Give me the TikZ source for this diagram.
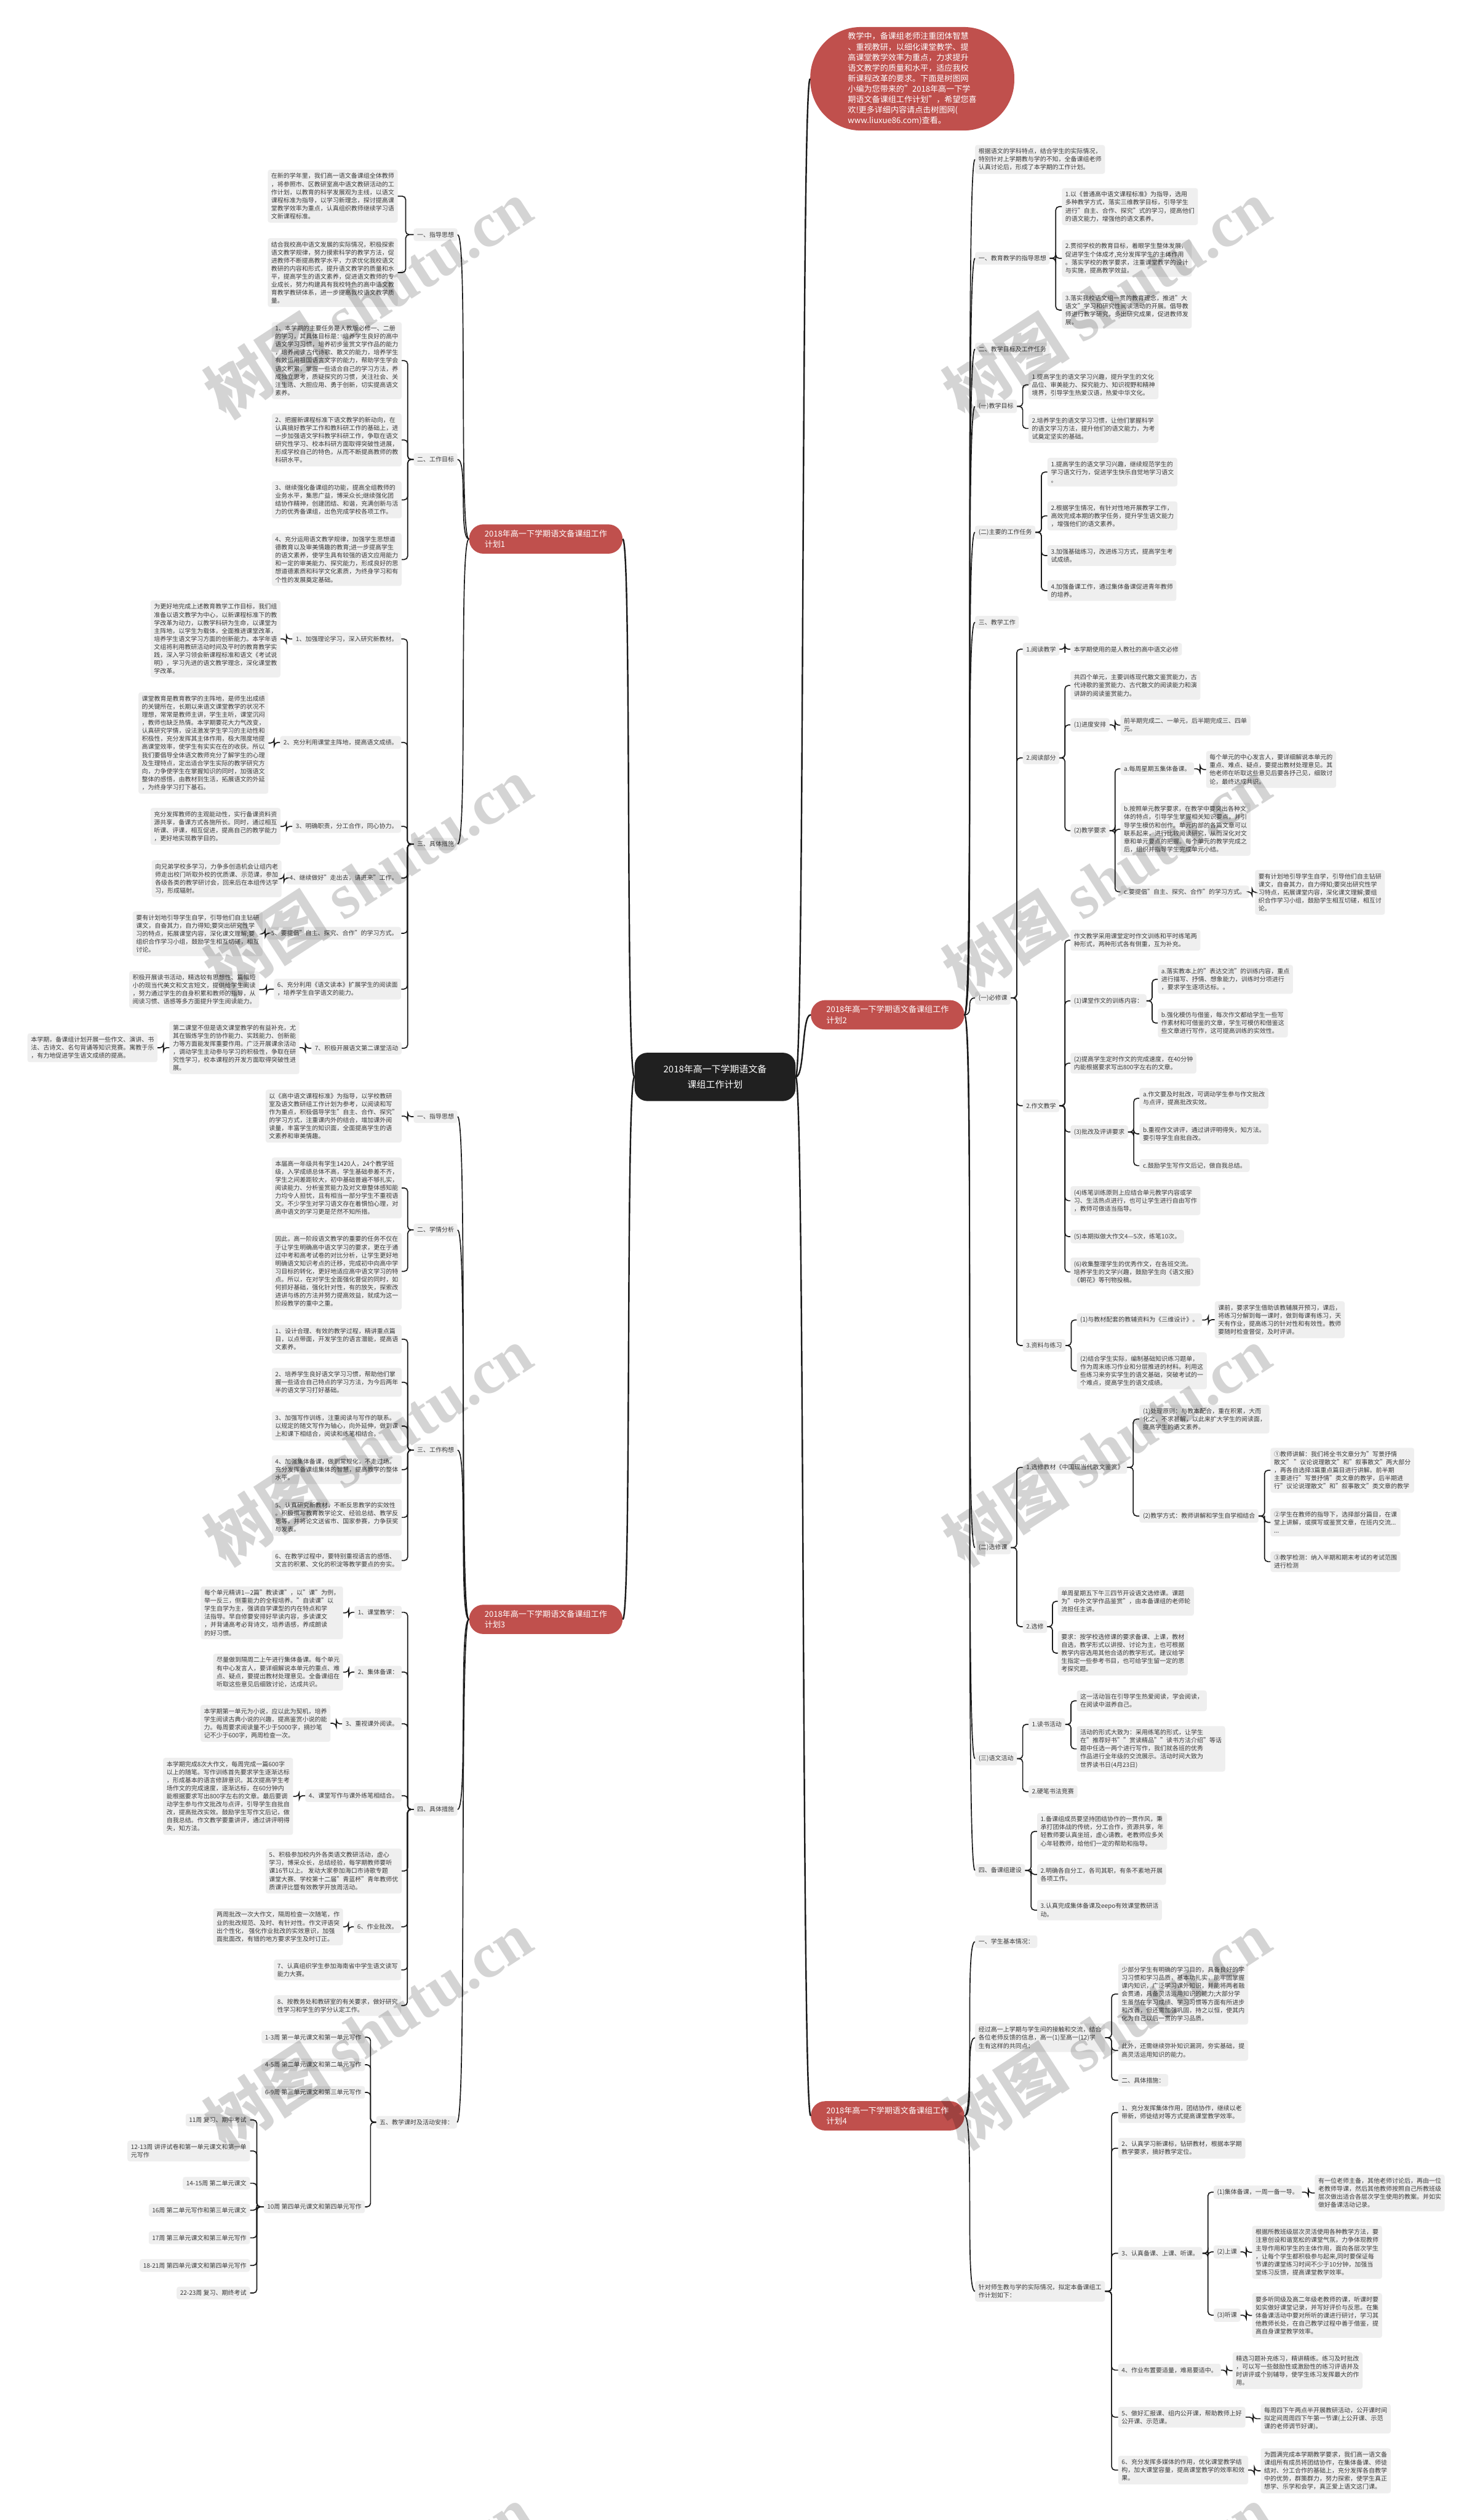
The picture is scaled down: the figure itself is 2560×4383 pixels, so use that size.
\documentclass[tikz,border=0pt]{standalone}
\usepackage{fontspec}
\setmainfont{Noto Sans CJK SC}
\newfontfamily\wmfont{Liberation Serif}
\usetikzlibrary{calc}
\definecolor{boxgray}{HTML}{EFEFEF}
\definecolor{txtgray}{HTML}{3A3A3A}
\definecolor{redc}{HTML}{C0504D}
\definecolor{rootc}{HTML}{202020}
\definecolor{linec}{HTML}{1A1A1A}
\tikzset{
  box/.style={fill=boxgray, text=txtgray, rounded corners=4pt, inner xsep=6pt, inner ysep=6pt, align=left, font=\fontsize{10.7}{14}\selectfont},
  rednode/.style={fill=redc, text=white, rounded corners=25pt, minimum width=267pt, minimum height=51pt, inner sep=0pt, align=left, font=\fontsize{14}{18.4}\selectfont},
  rootnode/.style={fill=rootc, text=white, rounded corners=22pt, minimum width=280pt, minimum height=84pt, align=center, font=\fontsize{16}{27}\selectfont},
  conn/.style={draw=linec, line width=1.8pt, rounded corners=6pt},
  rootconn/.style={draw=linec, line width=2.6pt},
  wm/.style={rotate=33, text=black, text opacity=0.17, inner sep=0pt, font=\fontsize{110}{110}\selectfont\bfseries}
}
\newcommand\bxR[4]{\node[box,anchor=north west] (#1) at (#2,#3) {#4};}
\newcommand\bxL[4]{\node[box,anchor=north east] (#1) at (#2,#3) {#4};}
\newcommand\cnR[2]{\draw[conn] (#1.east) -| ($(#1.east)!.5!(#2.west)$) |- (#2.west);}
\newcommand\cnL[2]{\draw[conn] (#1.west) -| ($(#1.west)!.5!(#2.east)$) |- (#2.east);}
\newcommand\cvR[2]{\draw[conn] (#1.east) .. controls +(18,0) and +(-18,0) .. (#2.west);}
\newcommand\cvL[2]{\draw[conn] (#1.west) .. controls +(-18,0) and +(18,0) .. (#2.east);}
\begin{document}
\begin{tikzpicture}[x=1pt,y=-1pt]
\useasboundingbox[fill=white] (0,0) rectangle (2560,4383);

% ---------- root and main branches ----------
\node[rootnode] (root) at (1244,1873) {2018年高一下学期语文备\\课组工作计划};
\node[rednode, minimum width=355pt, minimum height=180pt, rounded corners=88pt, font=\fontsize{14}{18.3}\selectfont] (intro) at (1587,137) {教学中，备课组老师注重团体智慧\\、重视教研，以细化课堂教学、提\\高课堂教学效率为重点，力求提升\\语文教学的质量和水平，适应我校\\新课程改革的要求。下面是树图网\\小编为您带来的"2018年高一下学\\期语文备课组工作计划"，希望您喜\\欢!更多详细内容请点击树图网(\\www.liuxue86.com)查看。};
\node[rednode] (plan1) at (949.5,937.5) {2018年高一下学期语文备课组工作\\计划1};
\node[rednode] (plan3) at (949.5,2816.5) {2018年高一下学期语文备课组工作\\计划3};
\node[rednode] (plan2) at (1544,1765) {2018年高一下学期语文备课组工作\\计划2};
\node[rednode] (plan4) at (1544,3680) {2018年高一下学期语文备课组工作\\计划4};

\draw[rootconn] (root.east) .. controls +(16,0) and +(-16,0) .. (intro.west);
\draw[rootconn] (root.east) .. controls +(16,0) and +(-16,0) .. (plan2.west);
\draw[rootconn] (root.east) .. controls +(16,0) and +(-16,0) .. (plan4.west);
\draw[rootconn] (root.west) .. controls +(-16,0) and +(16,0) .. (plan1.east);
\draw[rootconn] (root.west) .. controls +(-16,0) and +(16,0) .. (plan3.east);

% ---------- plan 1 (left) ----------
\bxL{L1a}{796}{397}{一、指导思想}
\bxL{L1b}{796}{788}{二、工作目标}
\bxL{L1c}{796}{1457}{三、具体措施}
\bxL{A1}{692}{295}{在新的学年里，我们高一语文备课组全体教师\\，将参照市、区教研室高中语文教研活动的工\\作计划，以教育的科学发展观为主线，以语文\\课程标准为指导，以学习新理念，探讨提高课\\堂教学效率为重点，认真组织教师继续学习语\\文新课程标准。}
\bxL{A2}{692}{414}{结合我校高中语文发展的实际情况，积极探索\\语文教学规律，努力摸索科学的教学方法，促\\进教师不断提高教学水平，力求优化我校语文\\教研的内容和形式，提升语文教学的质量和水\\平，提高学生的语文素养，促进语文教师的专\\业成长，努力构建具有我校特色的高中语文教\\育教学教研体系，进一步提高我校语文教学质\\量。}
\bxL{B1}{699}{560}{1、本学期的主要任务是人教版必修一、二册\\的学习，其具体目标是：培养学生良好的高中\\语文学习习惯，培养初步鉴赏文学作品的能力\\，培养阅读古代诗歌、散文的能力，培养学生\\有效运用祖国语言文字的能力，帮助学生学会\\语文积累，掌握一些适合自己的学习方法，养\\成独立思考，质疑探究的习惯，关注社会、关\\注生活、大胆应用、勇于创新，切实提高语文\\素养。}
\bxL{B2}{699}{719}{2、把握新课程标准下语文教学的新动向，在\\认真搞好教学工作和教科研工作的基础上，进\\一步加强语文学科教学科研工作，争取在语文\\研究性学习、校本科研方面取得突破性进展，\\形成学校自己的特色，从而不断提高教师的教\\科研水平。}
\bxL{B3}{699}{837}{3、继续强化备课组的功能，提高全组教师的\\业务水平，集思广益，博采众长;继续强化团\\结协作精神，创建团结、和谐，充满创新与活\\力的优秀备课组，出色完成学校各项工作。}
\bxL{B4}{699}{927}{4、充分运用语文教学规律，加强学生思想道\\德教育以及审美情趣的教育;进一步提高学生\\的语文素养，使学生具有较强的语文应用能力\\和一定的审美能力、探究能力，形成良好的思\\想道德素质和科学文化素质，为终身学习和有\\个性的发展奠定基础。}
\bxL{C1}{698}{1100}{1、加强理论学习，深入研究新教材。}
\bxL{C1l}{488}{1044}{为更好地完成上述教育教学工作目标，我们组\\准备以语文教学为中心，以新课程标准下的教\\学改革为动力，以教学科研为生命，以课堂为\\主阵地，以学生为载体，全面推进课堂改革，\\培养学生语文学习方面的创新能力。本学年语\\文组将利用教研活动时间及平时的教育教学实\\践，深入学习领会新课程标准和语文《考试说\\明》，学习先进的语文教学理念，深化课堂教\\学改革。}
\bxL{C2}{698}{1280}{2、充分利用课堂主阵地，提高语文成绩。}
\bxL{C2l}{467}{1204}{课堂教育是教育教学的主阵地，是师生出成绩\\的关键所在，长期以来语文课堂教学的状况不\\理想，常常是教师主讲，学生主听，课堂沉闷\\，教师也缺乏热情。本学期要花大力气改变，\\认真研究学情，设法激发学生学习的主动性和\\积极性，充分发挥其主体作用，极大限度地提\\高课堂效率，使学生有实实在在的收获。所以\\我们要倡导全体语文教师充分了解学生的心理\\及生理特点，定出适合学生实际的教学研究方\\向，力争使学生在掌握知识的同时，加强语文\\整体的感悟，由教材到生活，拓展语文的外延\\，为终身学习打下基石。}
\bxL{C3}{698}{1426}{3、明确职责，分工合作，同心协力。}
\bxL{C3l}{488}{1405}{充分发挥教师的主观能动性，实行备课资料资\\源共享，备课方式各施所长。同时，通过相互\\听课、评课，相互促进，提高自己的教学能力\\，更好地实现教学目的。}
\bxL{C4}{698}{1516}{4、继续做好"走出去，请进来"工作。}
\bxL{C4l}{490}{1496}{向兄弟学校多学习，力争多创造机会让组内老\\师走出校门听取外校的优质课、示范课，参加\\各级各类的教学研讨会，回来后在本组传达学\\习，形成辐射。}
\bxL{C5}{698}{1612}{5、要提倡"自主、探究、合作"的学习方式。}
\bxL{C5l}{457}{1585}{要有计划地引导学生自学，引导他们自主钻研\\课文，自奋其力，自力得知;要突出研究性学\\习的特点，拓展课堂内容，深化课文理解;要\\组织合作学习小组，鼓励学生相互切磋，相互\\讨论。}
\bxL{C6}{698}{1702}{6、充分利用《语文读本》扩展学生的阅读面\\，培养学生自学语文的能力。}
\bxL{C6l}{451}{1689}{积极开展读书活动，精选较有思想性、篇幅短\\小的现当代美文和文言短文，提供给学生阅读\\，努力通过学生的自身积累和教师的指导，从\\阅读习惯、语感等多方面提升学生阅读能力。}
\bxL{C7}{699}{1812}{7、积极开展语文第二课堂活动}
\bxL{C7a}{521}{1776}{第二课堂不但是语文课堂教学的有益补充，尤\\其在锻炼学生的协作能力、实践能力、创新能\\力等方面能发挥重要作用。广泛开展课余活动\\，调动学生主动参与学习的积极性，争取在研\\究性学习，校本课程的开发方面取得突破性进\\展。}
\bxL{C7b}{274}{1797}{本学期，备课组计划开展一些作文、演讲、书\\法、古诗文、名句背诵等知识竞赛。寓教于乐\\，有力地促进学生语文成绩的提高。}

\foreach \c in {L1a,L1b,L1c} {\cvL{plan1}{\c}}
\foreach \c in {A1,A2} {\cnL{L1a}{\c}}
\foreach \c in {B1,B2,B3,B4} {\cnL{L1b}{\c}}
\foreach \c in {C1,C2,C3,C4,C5,C6,C7} {\cnL{L1c}{\c}}
\foreach \c in {C1,C2,C3,C4,C5,C6} {\cnL{\c}{\c l}}
\cnL{C7}{C7a}
\cnL{C7a}{C7b}

% ---------- plan 3 (left) ----------
\bxL{M1}{796}{1931}{一、指导思想}
\bxL{M1l}{699}{1895}{以《高中语文课程标准》为指导，以学校教研\\室及语文教研组工作计划为参考，以阅读和写\\作为重点，积极倡导学生"自主、合作、探究"\\的学习方式，注重课内外的结合，增加课外阅\\读量，丰富学生的知识面，全面提高学生的语\\文素养和审美情趣。}
\bxL{M2}{796}{2128}{二、学情分析}
\bxL{D1}{699}{2013}{本届高一年级共有学生1420人，24个教学班\\级，入学成绩总体不高，学生基础参差不齐，\\学生之间差距较大，初中基础普遍不够扎实，\\阅读能力、分析鉴赏能力及对文章整体感知能\\力均令人担忧，且有相当一部分学生不重视语\\文。不少学生对学习语文存在着惧怕心理，对\\高中语文的学习更是茫然不知所措。}
\bxL{D2}{699}{2144}{因此，高一阶段语文教学的重要的任务不仅在\\于让学生明确高中语文学习的要求，更在于通\\过中考和高考试卷的对比分析，让学生更好地\\明确语文知识考点的迁移，完成初中向高中学\\习目标的转化，更好地适应高中语文学习的特\\点。所以，在对学生全面强化督促的同时，如\\何抓好基础，强化针对性，有的放矢，探索改\\进讲与练的方法并努力提高效益，就成为这一\\阶段教学的重中之重。}
\bxL{M3}{796}{2511}{三、工作构想}
\bxL{E1}{699}{2304}{1、设计合理、有效的教学过程，精讲重点篇\\目，以点带面，开发学生的语言潜能，提高语\\文素养。}
\bxL{E2}{699}{2379}{2、培养学生良好语文学习习惯，帮助他们掌\\握一些适合自己特点的学习方法，为今后两年\\半的语文学习打好基础。}
\bxL{E3}{699}{2455}{3、加强写作训练，注重阅读与写作的联系。\\以规定的随文写作为轴心，向外延伸，做到课\\上和课下相结合，阅读和练笔相结合。}
\bxL{E4}{699}{2531}{4、加强集体备课，做到常规化，不走过场。\\充分发挥备课组集体的智慧，提高教学的整体\\水平。}
\bxL{E5}{699}{2607}{5、认真研究新教材，不断反思教学的实效性\\。积极撰写教育教学论文、经验总结、教学反\\思等，并将论文送省市、国家参赛，力争获奖\\与发表。}
\bxL{E6}{699}{2696}{6、在教学过程中，要特别重视语言的感悟、\\文言的积累、文化的积淀等教学要点的夯实。}
\bxL{M4}{796}{3136}{四、具体措施}
\bxL{F1}{699}{2793}{1、课堂教学：}
\bxL{F1l}{597}{2759}{每个单元精讲1—2篇"教读课"，以"课"为例，\\举一反三，侧重能力的全程培养。"自读课"以\\学生自学为主，强调自学课型的内在特点和学\\法指导。早自修要安排好早读内容，多读课文\\，并背诵高考必背诗文，培养语感，养成朗读\\的好习惯。}
\bxL{F2}{699}{2897}{2、集体备课：}
\bxL{F2l}{597}{2876}{尽量做到隔周二上午进行集体备课。每个单元\\有中心发言人，要详细解说本单元的重点、难\\点、疑点，要提出教材处理意见。全备课组在\\听取这些意见后细致讨论，达成共识。}
\bxL{F3}{699}{2987}{3、重视课外阅读。}
\bxL{F3l}{575}{2965}{本学期第一单元为小说，应以此为契机，培养\\学生阅读古典小说的兴趣，提高鉴赏小说的能\\力。每周要求阅读量不少于5000字，摘抄笔\\记不少于600字，两周检查一次。}
\bxL{F4}{699}{3112}{4、课堂写作与课外练笔相结合。}
\bxL{F4l}{510}{3057}{本学期完成8次大作文，每周完成一篇600字\\以上的随笔。写作训练首先要求学生逐渐达标\\，形成基本的语言修辞意识。其次提高学生考\\场作文的完成速度，逐渐达标，在60分钟内\\能根据要求写出800字左右的文章。最后要调\\动学生参与作文批改与点评，引导学生自批自\\改，提高批改实效。鼓励学生写作文后记，做\\自我总结。作文教学要重讲评，通过讲评明得\\失，知方法。}
\bxL{F5}{699}{3215}{5、积极参加校内外各类语文教研活动，虚心\\学习，博采众长，总结经验，每学期教师要听\\课16节以上。 发动大家参加海口市诗歌专题\\课堂大赛、学校第十二届"青蓝杯"青年教师优\\质课评比暨有效教学开放周活动。}
\bxL{F6}{698}{3340}{6、作业批改。}
\bxL{F6l}{597}{3319}{两周批改一次大作文，隔周检查一次随笔，作\\业的批改规范、及时、有针对性。作文评语突\\出个性化， 强化作业批改的实效意识，加强\\面批面改，有错的地方要求学生及时订正。}
\bxL{F7}{698}{3408}{7、认真组织学生参加海南省中学生语文读写\\能力大赛。}
\bxL{F8}{698}{3470}{8、按教务处和教研室的有关要求，做好研究\\性学习和学生的学分认定工作。}
\bxL{M5}{795}{3680}{五、教学课时及活动安排：}
\bxL{G1}{635}{3532}{1-3周 第一单元课文和第一单元写作}
\bxL{G2}{635}{3580}{4-5周 第二单元课文和第二单元写作}
\bxL{G3}{635}{3628}{6-9周 第三单元课文和第三单元写作}
\bxL{G4}{635}{3827}{10周 第四单元课文和第四单元写作}
\bxL{H1}{435}{3676}{11周 复习、期中考试}
\bxL{H2}{435}{3723}{12-13周 讲评试卷和第一单元课文和第一单\\元写作}
\bxL{H3}{435}{3786}{14-15周 第二单元课文}
\bxL{H4}{435}{3833}{16周 第二单元写作和第三单元课文}
\bxL{H5}{435}{3881}{17周 第三单元课文和第三单元写作}
\bxL{H6}{435}{3929}{18-21周 第四单元课文和第四单元写作}
\bxL{H7}{435}{3977}{22-23周 复习、期终考试}

\foreach \c in {M1,M2,M3,M4,M5} {\cvL{plan3}{\c}}
\cnL{M1}{M1l}
\foreach \c in {D1,D2} {\cnL{M2}{\c}}
\foreach \c in {E1,E2,E3,E4,E5,E6} {\cnL{M3}{\c}}
\foreach \c in {F1,F2,F3,F4,F5,F6,F7,F8} {\cnL{M4}{\c}}
\foreach \c in {F1,F2,F3,F4,F6} {\cnL{\c}{\c l}}
\foreach \c in {G1,G2,G3,G4} {\cnL{M5}{\c}}
\foreach \c in {H1,H2,H3,H4,H5,H6,H7} {\cnL{G4}{\c}}

% ---------- plan 2 (right) ----------
\bxR{P0}{1696}{252}{根据语文的学科特点，结合学生的实际情况，\\特别针对上学期教与学的不知，全备课组老师\\认真讨论后，形成了本学期的工作计划。}
\bxR{P1}{1696}{438}{一、教育教学的指导思想}
\bxR{P1a}{1847}{327}{1.以《普通高中语文课程标准》为指导，选用\\多种教学方式，落实三维教学目标，引导学生\\进行"自主、合作、探究"式的学习，提高他们\\的语文能力，增强他的语文素养。}
\bxR{P1b}{1847}{417}{2.贯彻学校的教育目标，着眼学生整体发展，\\促进学生个体成才,充分发挥学生的主体作用\\。落实学校的教学要求，注重课堂教学的设计\\与实施，提高教学效益。}
\bxR{P1c}{1847}{507}{3.落实我校语文组一贯的教育理念，推进"大\\语文"学习和研究性阅读活动的开展。倡导教\\师进行教学研究，多出研究成果，促进教师发\\展。}
\bxR{P2}{1696}{596}{二、教学目标及工作任务}
\bxR{P3}{1696}{695}{(一)教学目标}
\bxR{P3a}{1789}{644}{1.提高学生的语文学习兴趣，提升学生的文化\\品位、审美能力、探究能力、知识视野和精神\\境界，引导学生热爱汉语，热爱中华文化。}
\bxR{P3b}{1789}{720}{2.培养学生的语文学习习惯，让他们掌握科学\\的语文学习方法，提升他们的语文能力，为考\\试奠定坚实的基础。}
\bxR{P4}{1696}{914}{(二)主要的工作任务}
\bxR{P4a}{1822}{796}{1.提高学生的语文学习兴趣，继续规范学生的\\学习语文行为，促进学生快乐自觉地学习语文\\。}
\bxR{P4b}{1822}{872}{2.根据学生情况，有针对性地开展教学工作，\\高效完成本期的教学任务，提升学生语文能力\\，增强他们的语文素养。}
\bxR{P4c}{1822}{948}{3.加强基础练习，改进练习方式，提高学生考\\试成绩。}
\bxR{P4d}{1822}{1009}{4.加强备课工作，通过集体备课促进青年教师\\的培养。}
\bxR{P5}{1696}{1071}{三、教学工作}
\bxR{P6}{1696}{1724}{(一)必修课}
\bxR{Q1}{1779}{1118}{1.阅读教学}
\bxR{Q1a}{1862}{1118}{本学期使用的是人教社的高中语文必修}
\bxR{Q2}{1779}{1307}{2.阅读部分}
\bxR{Q2a}{1862}{1167}{共四个单元，主要训练现代散文鉴赏能力，古\\代诗歌的鉴赏能力、古代散文的阅读能力和演\\讲辞的阅读鉴赏能力。}
\bxR{Q2b}{1862}{1249}{(1)进度安排}
\bxR{Q2b1}{1949}{1243}{前半期完成二、一单元，后半期完成三、四单\\元。}
\bxR{Q2c}{1862}{1433}{(2)教学要求}
\bxR{Q2c1}{1949}{1326}{a.每周星期五集体备课。}
\bxR{Q2c1a}{2098}{1306}{每个单元的中心发言人，要详细解说本单元的\\重点、难点、疑点，要提出教材处理意见。其\\他老师在听取这些意见后要各抒己见，细致讨\\论，最终达成共识。}
\bxR{Q2c2}{1949}{1396}{b.按照单元教学要求，在教学中要突出各种文\\体的特点，引导学生掌握相关知识要点，并引\\导学生模仿和创作。单元内部的各篇文章可以\\联系起来，进行比较阅读研究，从而深化对文\\章和单元要点的把握。每个单元的教学完成之\\后，组织并指导学生完成单元小结。}
\bxR{Q2c3}{1949}{1540}{c.要提倡"自主、探究、合作"的学习方式。}
\bxR{Q2c3a}{2183}{1513}{要有计划地引导学生自学，引导他们自主钻研\\课文，自奋其力，自力得知;要突出研究性学\\习特点，拓展课堂内容，深化课文理解;要组\\织合作学习小组，鼓励学生相互切磋，相互讨\\论。}
\bxR{Q3}{1779}{1912}{2.作文教学}
\bxR{Q3a}{1862}{1617}{作文教学采用课堂定时作文训练和平时练笔两\\种形式，两种形式各有侧重，互为补充。}
\bxR{Q3b}{1862}{1729}{(1)课堂作文的训练内容：}
\bxR{Q3b1}{2014}{1678}{a.落实教本上的"表达交流"的训练内容，重点\\进行描写、抒情、想象能力，训练时分项进行\\，要求学生逐项达标。。}
\bxR{Q3b2}{2014}{1754}{b.强化模仿与借鉴，每次作文都给学生一些写\\作素材和可借鉴的文章，学生可模仿和借鉴这\\些文章进行写作，这可提高训练的实效性。}
\bxR{Q3c}{1862}{1831}{(2)提高学生定时作文的完成速度，在40分钟\\内能根据要求写出800字左右的文章。}
\bxR{Q3d}{1862}{1957}{(3)批改及评讲要求}
\bxR{Q3d1}{1982}{1892}{a.作文要及时批改，可调动学生参与作文批改\\与点评，提高批改实效。}
\bxR{Q3d2}{1982}{1954}{b.重视作文讲评，通过讲评明得失，知方法。\\要引导学生自批自改。}
\bxR{Q3d3}{1982}{2016}{c.鼓励学生写作文后记，做自我总结。}
\bxR{Q3e}{1862}{2063}{(4)练笔训练原则上应结合单元教学内容或学\\习、生活热点进行，也可让学生进行自由写作\\，教师可做适当指导。}
\bxR{Q3f}{1862}{2139}{(5)本期拟做大作文4—5次，练笔10次。}
\bxR{Q3g}{1862}{2187}{(6)收集整理学生的优秀作文，在各班交流。\\培养学生的文学兴趣，鼓励学生向《语文报》\\《朝花》等刊物投稿。}
\bxR{Q4}{1779}{2329}{3.资料与练习}
\bxR{Q4a}{1873}{2284}{(1)与教材配套的教辅资料为《三维设计》。}
\bxR{Q4a1}{2113}{2263}{课前，要求学生借助该教辅展开预习，课后，\\将练习分解到每一课时，做到每课有练习，天\\天有作业，提高练习的针对性和有效性。教师\\要随时检查督促，及时评讲。}
\bxR{Q4b}{1873}{2352}{(2)结合学生实际，编制基础知识练习题单，\\作为周末练习作业和分层推进的材料。利用这\\些练习来夯实学生的语文基础，突破考试的一\\个难点，提高学生的语文成绩。}
\bxR{P7}{1696}{2680}{(二)选修课}
\bxR{R1}{1779}{2541}{1.选修教材《中国现当代散文鉴赏》}
\bxR{R1a}{1982}{2443}{(1)处理原则：与教本配合，重在积累，大而\\化之，不求甚解，以此来扩大学生的阅读面，\\提高学生的语文素养。}
\bxR{R1b}{1982}{2625}{(2)教学方式：教师讲解和学生自学相结合}
\bxR{R1b1}{2210}{2518}{①教师讲解：我们将全书文章分为"写景抒情\\散文" "议论说理散文"和"叙事散文"两大部分\\，再各自选择3篇重点篇目进行讲解。前半期\\主要进行"写景抒情"类文章的教学，后半期进\\行"议论说理散文"和"叙事散文"类文章的教学}
\bxR{R1b2}{2210}{2623}{②学生在教师的指导下，选择部分篇目，在课\\堂上讲解，或撰写或鉴赏文章，在班内交流...\\...}
\bxR{R1b3}{2210}{2698}{③教学检测：纳入半期和期末考试的考试范围\\进行检测}
\bxR{R2}{1779}{2818}{2.选修}
\bxR{R2a}{1840}{2760}{单周星期五下午三四节开设语文选修课。课题\\为"中外文学作品鉴赏"，由本备课组的老师轮\\流担任主讲。}
\bxR{R2b}{1840}{2836}{要求：按学校选修课的要求备课、上课，教材\\自选，教学形式以讲授、讨论为主，也可根据\\教学内容选用其他合适的教学形式。建议给学\\生指定一些参考书目，也可给学生留一定的思\\考探究题。}
\bxR{P8}{1696}{3047}{(三)语文活动}
\bxR{S1}{1789}{2988}{1.读书活动}
\bxR{S1a}{1873}{2940}{这一活动旨在引导学生热爱阅读，学会阅读，\\在阅读中滋养自己。}
\bxR{S1b}{1873}{3002}{活动的形式大致为：采用练笔的形式，让学生\\在"推荐好书""赏读精品""读书方法介绍"等话\\题中任选一两个进行写作，我们就各班的优秀\\作品进行全年级的交流展示。活动时间大致为\\世界读书日(4月23日)}
\bxR{S2}{1789}{3105}{2.硬笔书法竞赛}
\bxR{P9}{1696}{3242}{四、备课组建设}
\bxR{T1}{1804}{3153}{1.备课组成员要坚持团结协作的一贯作风，秉\\承打团体战的传统，分工合作，资源共享，年\\轻教师要认真坐班，虚心请教。老教师应多关\\心年轻教师，给他们一定的帮助和指导。}
\bxR{T2}{1804}{3242}{2.明确各自分工，各司其职，有条不紊地开展\\各项工作。}
\bxR{T3}{1804}{3304}{3.认真完成集体备课及eepo有效课堂教研活\\动。}

\foreach \c in {P0,P1,P2,P3,P4,P5,P6,P7,P8,P9} {\cvR{plan2}{\c}}
\foreach \c in {P1a,P1b,P1c} {\cnR{P1}{\c}}
\foreach \c in {P3a,P3b} {\cnR{P3}{\c}}
\foreach \c in {P4a,P4b,P4c,P4d} {\cnR{P4}{\c}}
\foreach \c in {Q1,Q2,Q3,Q4} {\cnR{P6}{\c}}
\cnR{Q1}{Q1a}
\foreach \c in {Q2a,Q2b,Q2c} {\cnR{Q2}{\c}}
\cnR{Q2b}{Q2b1}
\foreach \c in {Q2c1,Q2c2,Q2c3} {\cnR{Q2c}{\c}}
\cnR{Q2c1}{Q2c1a}
\cnR{Q2c3}{Q2c3a}
\foreach \c in {Q3a,Q3b,Q3c,Q3d,Q3e,Q3f,Q3g} {\cnR{Q3}{\c}}
\foreach \c in {Q3b1,Q3b2} {\cnR{Q3b}{\c}}
\foreach \c in {Q3d1,Q3d2,Q3d3} {\cnR{Q3d}{\c}}
\foreach \c in {Q4a,Q4b} {\cnR{Q4}{\c}}
\cnR{Q4a}{Q4a1}
\foreach \c in {R1,R2} {\cnR{P7}{\c}}
\foreach \c in {R1a,R1b} {\cnR{R1}{\c}}
\foreach \c in {R1b1,R1b2,R1b3} {\cnR{R1b}{\c}}
\foreach \c in {R2a,R2b} {\cnR{R2}{\c}}
\foreach \c in {S1,S2} {\cnR{P8}{\c}}
\foreach \c in {S1a,S1b} {\cnR{S1}{\c}}
\foreach \c in {T1,T2,T3} {\cnR{P9}{\c}}

% ---------- plan 4 (right) ----------
\bxR{U1}{1696}{3366}{一、学生基本情况：}
\bxR{U2}{1696}{3519}{经过高一上学期与学生间的接触和交流，结合\\各位老师反馈的信息，高一(1)至高一(12)学\\生有这样的共同点：}
\bxR{U2a}{1945}{3415}{少部分学生有明确的学习目的，具备良好的学\\习习惯和学习品质，基本功扎实，能牢固掌握\\课内知识，广泛学习课外知识，并能将两者融\\会贯通，具备灵活运用知识的能力;大部分学\\生虽然在学习成绩、学习习惯等方面有所进步\\和改善，但还需加强巩固，持之以恒，使其内\\化为自己以后一贯的学习品质。}
\bxR{U2b}{1945}{3548}{此外，还需继续弥补知识漏洞，夯实基础，提\\高灵活运用知识的能力。}
\bxR{U2c}{1945}{3607}{二、具体措施：}
\bxR{U3}{1696}{3967}{针对师生教与学的实际情况，拟定本备课组工\\作计划如下：}
\bxR{V1}{1945}{3656}{1、充分发挥集体作用，团结协作，继续以老\\带新，师徒结对等方式提高课堂教学效率。}
\bxR{V2}{1945}{3718}{2、认真学习新课标，钻研教材，根据本学期\\教学要求，搞好教学定位。}
\bxR{V3}{1945}{3908}{3、认真备课、上课、听课。}
\bxR{V3a}{2111}{3801}{(1)集体备课，一周一备一导。}
\bxR{V3a1}{2287}{3782}{有一位老师主备，其他老师讨论后，再由一位\\老教师导课，然后其他教师按照自己所教班级\\层次做出适合各层次学生使用的教案。并如实\\做好备课活动记录。}
\bxR{V3b}{2111}{3905}{(2)上课}
\bxR{V3b1}{2178}{3871}{根据所教班级层次灵活使用各种教学方法，要\\注意创设和谐宽松的课堂气氛，力争体现教师\\主导作用和学生的主体作用，面向各层次学生\\，让每个学生都积极参与起来,同时要保证每\\节课的课堂练习时间不少于10分钟，加强当\\堂练习反馈，提高课堂教学效率。}
\bxR{V3c}{2111}{4015}{(3)听课}
\bxR{V3c1}{2178}{3988}{要多听同级及高二年级老教师的课，听课时要\\如实做好课堂记录，并写好评价与反思。在集\\体备课活动中要对所听的课进行研讨，学习其\\他教师长处，在自己教学过程中善于借鉴，提\\高自身课堂教学效率。}
\bxR{V4}{1945}{4111}{4、作业布置要适量，难易要适中。}
\bxR{V4a}{2144}{4091}{精选习题补充练习，精讲精练。练习及时批改\\，可以写一些鼓励性或激励性的练习评语并及\\时讲评或个别辅导，使学生练习发挥最大的作\\用。}
\bxR{V5}{1945}{4186}{5、做好汇报课、组内公开课，帮助教师上好\\公开课、示范课。}
\bxR{V5a}{2193}{4181}{每周四下午两点半开展教研活动，公开课时间\\拟定间周周四下午第一节课(上公开课、示范\\课的老师调节好课)。}
\bxR{V6}{1945}{4271}{6、充分发挥多媒体的作用，优化课堂教学结\\构，加大课堂容量，提高课堂教学的效率和效\\果。}
\bxR{V6a}{2193}{4258}{为圆满完成本学期教学要求，我们高一语文备\\课组所有成员将团结协作，在集体备课、师徒\\结对、分工合作的基础上，充分发挥各自教学\\中的优势，群策群力，努力探索，使学生真正\\想学、乐学和会学，真正爱上语文这门课。}

\foreach \c in {U1,U2,U3} {\cvR{plan4}{\c}}
\foreach \c in {U2a,U2b,U2c} {\cnR{U2}{\c}}
\foreach \c in {V1,V2,V3,V4,V5,V6} {\cnR{U3}{\c}}
\foreach \c in {V3a,V3b,V3c} {\cnR{V3}{\c}}
\cnR{V3a}{V3a1}
\cnR{V3b}{V3b1}
\cnR{V3c}{V3c1}
\cnR{V4}{V4a}
\cnR{V5}{V5a}
\cnR{V6}{V6a}

% ---------- watermarks ----------
\foreach \y [count=\i] in {520,1525,2515,3530,4530} {
  \node[wm] (wmL\i) at (640,\y) {树图 {\wmfont\bfseries shutu.cn}};
  \node[wm] (wmR\i) at (1925,\y) {树图 {\wmfont\bfseries shutu.cn}};
}
\end{tikzpicture}
\end{document}
